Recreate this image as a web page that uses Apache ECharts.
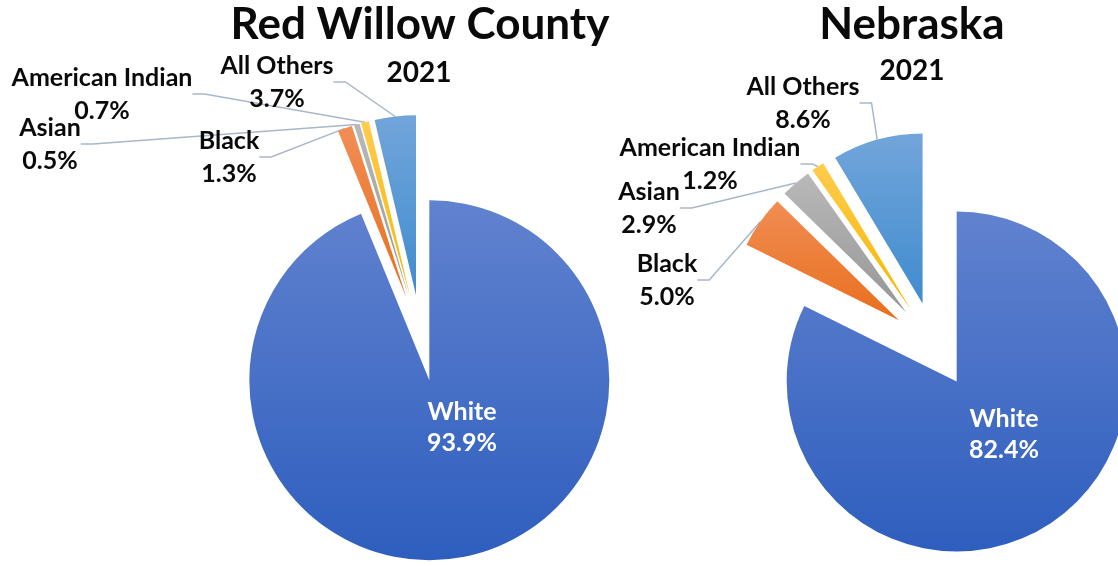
<!DOCTYPE html>
<html>
<head>
<meta charset="utf-8">
<script src="https://cdn.jsdelivr.net/npm/echarts@6/dist/echarts.min.js"></script>
<style>
  html, body { margin: 0; padding: 0; background: #ffffff; }
  #chart { width: 1118px; height: 566px; }
</style>
</head>
<body>
<div id="chart"></div>
<script>
// Race shares (percent), 2021
const categories = ['White', 'Black', 'Asian', 'American Indian', 'All Others'];
const redWillowShares = [93.9, 1.3, 0.5, 0.7, 3.7];
const nebraskaShares = [82.4, 5.0, 2.9, 1.2, 8.6];
const chartTitles = ['Red Willow County', 'Nebraska'];
const yearLabel = '2021';

// Where each label block sits (centre of the two text lines)
const redWillowLabelPos = [[462, 427], [229, 157], [50, 144], [102, 94], [277, 82]];
const nebraskaLabelPos = [[1004, 434], [667, 280], [649, 208], [710, 164], [803, 103]];

// Top/bottom gradient stops for each slice colour
const sliceColors = [
  ['#6182cf', '#2e5ebe'],
  ['#f18d55', '#e86f1c'],
  ['#b9b9b9', '#969696'],
  ['#ffcc4d', '#f4b800'],
  ['#72a5da', '#3f8ccf']
];

const FONT = 'Lato';
const EXPLODE = 43;   // distance each slice is pulled out from the centre

function gradient(i) {
  return new echarts.graphic.LinearGradient(0, 0, 0, 1, [
    { offset: 0, color: sliceColors[i][0] },
    { offset: 1, color: sliceColors[i][1] }
  ]);
}

// One pie series per slice: every series holds the full data, only its own
// slice is painted, and its centre is pushed out along that slice's mid angle.
function explodedPie(shares, center, radius, labelPos) {
  const total = shares.reduce(function (a, b) { return a + b; }, 0);
  let cum = 0;
  return shares.map(function (v, k) {
    const mid = (cum + v / 2) / total * 2 * Math.PI;
    cum += v;
    const c = [center[0] + EXPLODE * Math.sin(mid), center[1] - EXPLODE * Math.cos(mid)];
    return {
      type: 'pie',
      center: c,
      radius: radius,
      startAngle: 90,
      clockwise: true,
      avoidLabelOverlap: false,
      silent: true,
      animation: false,
      z: k === 0 ? 2 : 3,
      label: {
        show: false,
        position: 'outside',
        formatter: function (p) { return p.name + '\n' + p.value.toFixed(1) + '%'; },
        fontFamily: FONT,
        fontWeight: 'bold',
        fontSize: 25,
        lineHeight: 33,
        color: '#0a0a0a',
        align: 'center'
      },
      labelLine: {
        show: false,
        length: 10,
        length2: 12,
        minTurnAngle: 0,
        lineStyle: { color: '#a9b7c9', width: 1.5 }
      },
      labelLayout: function (p) {
        const pos = labelPos[p.dataIndex];
        return { x: pos[0], y: pos[1], align: 'center', verticalAlign: 'middle' };
      },
      data: categories.map(function (name, i) {
        const own = i === k;
        const item = {
          name: name,
          value: shares[i],
          itemStyle: { color: own ? gradient(i) : 'rgba(0,0,0,0)' },
          label: { show: own },
          labelLine: { show: own && i !== 0 }
        };
        if (own && i === 0) {
          item.label = { show: true, position: 'inside', color: '#ffffff', lineHeight: 31 };
        }
        return item;
      })
    };
  });
}

const chart = echarts.init(document.getElementById('chart'), null, { renderer: 'canvas' });

chart.setOption({
  backgroundColor: '#ffffff',
  animation: false,
  title: [
    { text: chartTitles[0], left: 420, top: 3, textAlign: 'center', padding: 0,
      textStyle: { fontFamily: FONT, fontWeight: 'bold', fontSize: 44, color: '#0a0a0a' } },
    { text: yearLabel, left: 419, top: 59, textAlign: 'center', padding: 0,
      textStyle: { fontFamily: FONT, fontWeight: 'bold', fontSize: 28, color: '#0a0a0a' } },
    { text: chartTitles[1], left: 912, top: 3, textAlign: 'center', padding: 0,
      textStyle: { fontFamily: FONT, fontWeight: 'bold', fontSize: 44, color: '#0a0a0a' } },
    { text: yearLabel, left: 912, top: 57, textAlign: 'center', padding: 0,
      textStyle: { fontFamily: FONT, fontWeight: 'bold', fontSize: 28, color: '#0a0a0a' } }
  ],
  series: [].concat(
    explodedPie(redWillowShares, [421, 338], 180, redWillowLabelPos),
    explodedPie(nebraskaShares, [934, 345], 170, nebraskaLabelPos)
  )
});
</script>
</body>
</html>
